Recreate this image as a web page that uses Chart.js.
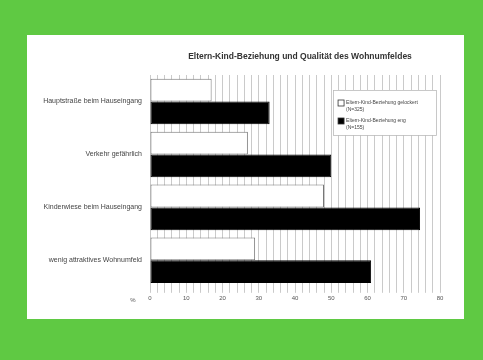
<!DOCTYPE html>
<html>
<head>
<meta charset="utf-8">
<script src="https://cdn.jsdelivr.net/npm/chart.js@4.4.1/dist/chart.umd.min.js"></script>
<style>
  html, body { margin: 0; padding: 0; }
  body { width: 483px; height: 360px; background: #5fc943; position: relative; overflow: hidden; }
  #panel { position: absolute; left: 27px; top: 35px; width: 437px; height: 284px; background: #ffffff; }
  #chart { display: block; }
</style>
</head>
<body>
<div id="panel"><canvas id="chart" width="437" height="284"></canvas></div>
<script>
// Categories (Wohnumfeld-Merkmale) and shares in percent per group
const categories = [
  'Hauptstraße beim Hauseingang',
  'Verkehr gefährlich',
  'Kinderwiese beim Hauseingang',
  'wenig attraktives Wohnumfeld'
];
const valuesLoose = [17, 27, 48, 29];
const valuesClose = [33, 50, 74.5, 61];
const seriesLabels = ['Eltern-Kind-Beziehung gelockert', 'Eltern-Kind-Beziehung eng'];
const sampleSizes = ['(N=325)', '(N=155)'];
const tickLabels = [0, 10, 20, 30, 40, 50, 60, 70, 80];
const titleText = 'Eltern-Kind-Beziehung und Qualität des Wohnumfeldes';

const FONT = '"Liberation Sans", Arial, sans-serif';

// Title centred over the plot area, boxed legend inside it, "%" unit label
const extras = {
  id: 'extras',
  afterDraw(chart) {
    const ctx = chart.ctx;
    const area = chart.chartArea;
    const xs = chart.scales.x;
    ctx.save();

    ctx.fillStyle = '#333';
    ctx.font = 'bold 8.5px ' + FONT;
    ctx.textAlign = 'center';
    ctx.textBaseline = 'middle';
    ctx.fillText(titleText, (area.left + area.right) / 2 + 5, 22);

    ctx.fillStyle = '#555';
    ctx.font = '6px ' + FONT;
    ctx.fillText('%', area.left - 17, area.bottom + 14);

    const bx = xs.getPixelForValue(50.5), by = area.top + 15;
    const bw = 103, bh = 45;
    ctx.fillStyle = '#fff';
    ctx.fillRect(bx, by, bw, bh);
    ctx.strokeStyle = '#bbb';
    ctx.lineWidth = 0.8;
    ctx.strokeRect(bx + 0.5, by + 0.5, bw, bh);
    chart.data.datasets.forEach((d, i) => {
      const y0 = by + 13 + i * 18;
      ctx.fillStyle = d.backgroundColor;
      ctx.strokeStyle = '#333';
      ctx.lineWidth = 0.8;
      ctx.fillRect(bx + 5, y0 - 3, 6, 6);
      ctx.strokeRect(bx + 5, y0 - 3, 6, 6);
      ctx.fillStyle = '#444';
      ctx.font = '5px ' + FONT;
      ctx.textAlign = 'left';
      ctx.textBaseline = 'middle';
      ctx.fillText(seriesLabels[i], bx + 13, y0);
      ctx.fillText(sampleSizes[i], bx + 13, y0 + 7);
    });
    ctx.restore();
  }
};

new Chart(document.getElementById('chart'), {
  type: 'bar',
  data: {
    labels: categories,
    datasets: [
      {
        label: seriesLabels[0] + ' ' + sampleSizes[0],
        data: valuesLoose,
        backgroundColor: '#ffffff',
        borderColor: '#777777',
        borderWidth: 1,
        borderSkipped: false,
        categoryPercentage: 0.86,
        barPercentage: 1.0
      },
      {
        label: seriesLabels[1] + ' ' + sampleSizes[1],
        data: valuesClose,
        backgroundColor: '#000000',
        borderColor: '#000000',
        borderWidth: 1,
        borderSkipped: false,
        categoryPercentage: 0.86,
        barPercentage: 1.0
      }
    ]
  },
  options: {
    indexAxis: 'y',
    responsive: false,
    animation: false,
    devicePixelRatio: 1,
    layout: { padding: { top: 40, right: 24, bottom: 15, left: 0 } },
    plugins: {
      legend: { display: false },
      tooltip: { enabled: false },
      title: { display: false }
    },
    scales: {
      x: {
        min: 0,
        max: 80,
        border: { display: false },
        grid: {
          color: '#cacaca',
          lineWidth: 1,
          tickLength: 6,
          drawTicks: true
        },
        ticks: {
          stepSize: 2,
          autoSkip: false,
          maxRotation: 0,
          padding: 2,
          color: '#555',
          font: { family: FONT, size: 6 },
          callback: (v) => tickLabels.includes(v) ? String(v) : ''
        }
      },
      y: {
        border: { display: false },
        grid: { display: false },
        ticks: {
          color: '#444',
          padding: 0,
          font: { family: FONT, size: 7 }
        },
        afterFit(scale) { scale.width = 123; }
      }
    }
  },
  plugins: [extras]
});
</script>
</body>
</html>
